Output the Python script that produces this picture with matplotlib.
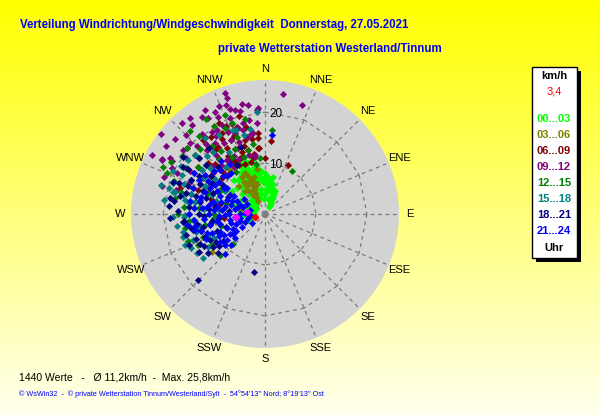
import matplotlib
matplotlib.use("Agg")
import matplotlib.pyplot as plt
from matplotlib.patches import Rectangle
import numpy as np

# wind readings (direction deg from N, speed km/h), one list per 3-hour block
h00 = [(30, 1.5), (28, 2.5), (27, 3.2), (26, 3.8), (32, 2.0), (25, 4.3), (355, 6.5), (358, 7.0), (2, 6.8),
       (5, 6.0), (8, 5.5), (352, 7.5), (348, 8.0), (345, 8.8), (340, 9.5), (335, 10.0), (338, 8.5),
       (342, 7.2), (330, 9.0), (325, 8.0), (330, 6.5), (335, 5.5), (340, 4.5), (345, 3.5), (320, 5.0),
       (315, 4.0), (310, 3.5), (300, 3.0), (290, 3.5), (280, 3.2), (270, 3.5), (260, 3.0), (255, 2.5),
       (250, 3.5), (265, 4.5), (275, 5.0), (320, 7.0), (328, 4.0), (350, 5.0), (0, 4.0), (10, 3.0),
       (15, 4.5), (350, 9.5), (318, 10.5), (305, 8.0), (310, 6.0), (298, 5.5), (285, 6.0),
       (29, 2.0), (27, 2.8), (24, 3.6), (23, 4.8), (358, 6.0), (3, 7.5), (6, 7.0), (9, 6.5), (12, 5.5),
       (350, 6.8), (346, 7.2), (343, 8.3), (337, 9.0), (332, 9.5), (327, 8.8), (322, 8.5), (318, 9.0),
       (325, 7.0), (333, 7.8), (340, 8.0), (347, 9.5), (353, 8.5), (0, 8.0), (345, 5.8), (335, 4.0),
       (325, 3.0), (315, 2.5), (300, 2.0), (285, 2.5), (268, 2.2), (260, 2.2), (330, 11.5),
       (336, 11.0), (342, 10.5), (312, 7.5), (355, 3.0), (5, 4.5), (15, 6.0), (20, 5.0), (18, 3.5),
       (2, 5.0), (350, 4.0), (12, 7.5), (355, 8.5), (340, 10.8), (348, 11.0)]

h03 = [(332, 3.0), (333, 3.8), (334, 4.5), (335, 5.2), (336, 6.0), (337, 6.8), (338, 7.5), (336, 8.2),
       (334, 9.0), (328, 8.5), (326, 7.5), (328, 6.5), (325, 5.5), (340, 5.5), (342, 6.5), (344, 7.5),
       (320, 6.0), (318, 7.5), (350, 9.0), (234, 12.8), (300, 12.0), (330, 12.0), (305, 4.8),
       (328, 4.4), (331, 4.2), (333, 5.0), (335, 6.5), (329, 7.0), (345, 6.0), (300, 8.0), (280, 5.0),
       (322, 11.0)]

h06 = [(5, 14.4), (25, 10.6), (350, 12), (355, 16), (345, 15), (340, 13), (335, 14), (330, 15),
       (338, 16.5), (342, 18), (336, 19), (330, 17), (325, 16), (320, 14), (328, 12.5), (332, 11),
       (338, 10.5), (345, 10.5), (315, 12), (310, 11), (318, 10.5), (325, 18.5),
       (333, 20), (345, 20), (355, 13), (0, 11), (320, 19), (312, 15), (305, 13), (300, 10), (290, 12),
       (348, 17.5), (335, 12), (327, 13.5), (343, 14), (310, 17), (295, 16),
       (282, 9), (265, 8), (287, 17.4), (354, 13), (355, 15), (330, 12), (335, 16), (340, 17),
       (345, 13), (350, 15), (325, 13), (320, 12), (315, 14), (310, 13), (305, 16),
       (300, 14), (295, 12), (338, 12), (348, 11.5), (322, 16), (332, 18),
       (318, 17), (300, 18), (290, 14), (285, 11), (278, 10)]

h09 = [(341.7, 25.0), (341.9, 23.9), (340.3, 22.7), (341.6, 21.7), (343.9, 21.2), (346.4, 20.8),
       (351, 21.6), (355.6, 20.5), (350.3, 18.7), (346.4, 18.4), (333.9, 22.3), (334, 21.1),
       (329.3, 21.9), (327, 22.7), (317.6, 24.1), (320.6, 22.6), (307.7, 25.8), (304.5, 23.5),
       (300.5, 21.6), (334, 19.4), (327, 19.1), (322, 19.1), (313.4, 20.3), (339.9, 18.8),
       (342.6, 17.7), (335.7, 17.6), (339.7, 16.9), (351.6, 16.1), (346.8, 15.5), (350.4, 11.7),
       (297.6, 25.0), (308, 20.4), (8.5, 23.8), (18.7, 22.6), (356, 20.8), (350, 11.3), (320, 15),
       (325, 13), (330, 16), (318, 17), (312, 14), (335, 12), (340, 15), (328, 18), (315, 11),
       (305, 15), (322, 20), (310, 18), (300, 17), (295, 14), (290, 18), (285, 15), (298, 12),
       (285, 21), (296.3, 20.3), (297.7, 22.8), (325, 17), (330, 19), (335, 16), (338, 14),
       (332, 13), (320, 18), (315, 19), (310, 20), (305, 19), (300, 21), (295, 19), (290, 21),
       (285, 18), (292, 16), (302, 14), (308, 13), (318, 13), (345, 17), (350, 16), (355, 18),
       (348, 22), (337, 23), (330, 23.5), (322, 24), (315, 22), (298, 23), (310, 23), (345, 12),
       (327, 11), (340, 20)]

h12 = [(5, 16.5), (32, 10), (310, 20), (310, 18), (335, 18.7), (299, 21.2), (293, 20.8), (227, 8.6),
       (228, 11.9), (251, 16), (245, 14.5), (320, 14), (325, 10), (340, 12),
       (330, 13), (312, 11), (300, 13), (305, 16), (290, 12), (280, 14), (270, 10), (285, 8),
       (275, 16), (260, 12), (340, 16), (350, 14), (330, 20), (322, 17), (318, 22), (338, 21),
       (348, 19), (265, 15), (255, 9), (295, 10), (300, 18), (305, 20),
       (310, 15), (315, 18), (325, 15), (330, 11), (335, 14), (345, 13), (350, 10), (285, 17),
       (280, 18), (270, 17), (260, 16), (250, 13), (240, 12), (290, 19), (295, 22), (320, 20),
       (328, 22), (340, 19), (355, 11), (300, 10), (275, 13), (265, 10)]

h15 = [(285.6, 21.2), (283.4, 18.5), (288.6, 19), (283.7, 18.2), (283, 16.5), (269.3, 15.7),
       (254.3, 16.7), (248.8, 16.8), (234.6, 14.9), (257.6, 16.5), (265, 14.2), (258, 13.6),
       (355.5, 20.1), (350, 16.9), (339, 17.6), (321.7, 19), (341, 17.4), (275, 12), (280, 14),
       (290, 15), (295, 13), (300, 16), (305, 12), (310, 14), (270, 11), (262, 10), (250, 12),
       (245, 11), (275, 9), (285, 10), (290, 11), (300, 9), (315, 16), (320, 12), (330, 14),
       (295, 18), (278, 20), (268, 18), (240, 13), (262, 17.5), (280, 16), (285, 15), (290, 17),
       (295, 16), (300, 14), (305, 15), (275, 14), (270, 13), (265, 12), (260, 13), (255, 14),
       (250, 15), (245, 16), (240, 15.5), (285, 19.5), (295, 20), (300, 19), (310, 18), (320, 16),
       (330, 18), (345, 16), (305, 18.5), (290, 13), (278, 15), (268, 16)]

h18 = [(190.7, 11.6), (225.4, 18.4), (267.6, 18.6), (279.6, 18.9), (264.4, 16.2), (237, 9.8),
       (235.6, 13.5), (237.6, 12.1), (249, 12.6), (257.5, 14.5), (304.8, 19.6), (299.8, 18.5),
       (289, 19.1), (275, 15), (270, 13), (260, 11), (250, 10), (245, 14), (255, 16), (285, 12),
       (290, 16), (295, 14), (300, 12), (310, 15), (280, 10), (265, 9), (240, 11), (230, 12),
       (272, 17), (282, 17), (292, 11), (305, 10), (315, 13), (320, 17), (330, 11), (262, 13.5),
       (252, 8), (275, 7), (295, 8), (340, 14), (280, 13), (285, 14), (275, 11), (270, 15),
       (265, 16), (260, 15), (255, 13), (250, 14.5), (245, 12), (240, 15), (235, 11), (290, 13),
       (295, 16), (300, 15), (305, 13), (310, 17), (285, 16), (278, 18), (268, 12), (258, 12.5),
       (248, 16), (242, 13.5), (300, 17.5), (290, 18), (275, 19), (262, 10.5)]

h21 = [(5, 15.5), (225, 11.1), (231.3, 7.5), (240.5, 5.2), (235, 3.1), (248, 4.2), (282, 13),
       (300, 11.3), (298.5, 7.8), (290, 5.2), (268.6, 7.8), (259, 11), (257, 14), (314.4, 12.3),
       (303, 14), (266, 2.9), (275, 10), (285, 9), (295, 12),
       (320, 10.5), (305, 5), (280, 6), (270, 5), (260, 7), (250, 8), (245, 10), (240, 8),
       (235, 9), (255, 5), (265, 12), (275, 14), (290, 15), (300, 16), (310, 13), (325, 12),
       (300, 4), (285, 3), (280, 11), (262, 9.5), (292, 9.5),
       (275, 12.5), (252, 12), (285, 7), (290, 8), (295, 6), (300, 7), (305, 9), (280, 8),
       (275, 8.5), (270, 7), (265, 6), (260, 5), (255, 7), (250, 6), (245, 7), (240, 6.5),
       (250, 11), (255, 13), (260, 14), (265, 14), (270, 15), (280, 15), (285, 13), (290, 12.5),
       (300, 13), (305, 11), (315, 10.5), (288, 4.5), (272, 4),
       (258, 3.5), (243, 9), (238, 10.5), (232, 10), (228, 9), (262, 15.5), (247, 12.5),
       (296, 10.5), (283, 10.5), (270, 11), (277, 11.5), (312, 11), (320, 13.5), (297, 14.5),
       (285, 5.5), (278, 9.5), (268, 9), (292, 7), (302, 9.5), (258, 9), (248, 9.5), (238, 7.5)]

latest = [(264, 5.7), (276, 3.5)]
now = [(253, 2.1)]

groups = [h00, h03, h06, h09, h12, h15, h18, h21]
hour_labels = ["00...03", "03...06", "06...09", "09...12", "12...15", "15...18", "18...21", "21...24"]
hour_colors = ["#00ff00", "#808000", "#800000", "#800080", "#008000", "#008080", "#000080", "#0000ff"]
compass = ["N", "NNE", "NE", "ENE", "E", "ESE", "SE", "SSE",
           "S", "SSW", "SW", "WSW", "W", "WNW", "NW", "NNW"]

RMAX = 26.3
W, H = 600, 415

fig = plt.figure(figsize=(6, 4.15), dpi=100)

# yellow gradient background
bg = fig.add_axes([0, 0, 1, 1], zorder=-5)
grad = np.linspace(0, 1, 256).reshape(-1, 1)
top = np.array([1.0, 1.0, 0.0])
bot = np.array([1.0, 1.0, 0.93])
img = top + (bot - top) * grad[..., None]
bg.imshow(img, aspect="auto", extent=[0, 1, 0, 1])
bg.axis("off")

ax = fig.add_axes([131 / W, (H - 348) / H, 268 / W, 268 / H], projection="polar")
ax.set_theta_zero_location("N")
ax.set_theta_direction(-1)
ax.set_facecolor("#d3d3d3")
ax.grid(False)
ax.set_xticks([])
ax.set_yticks([])
ax.spines["polar"].set_visible(False)

angles = np.radians(np.arange(0, 360, 22.5))
for a in angles:
    ax.plot([a, a], [0, RMAX], ls=(0, (3, 3)), color="#7a7a7a", lw=0.9, zorder=1)
for r in (10, 20):
    for a0, a1 in zip(angles, np.roll(angles, -1)):
        ax.plot([a0, a1], [r, r], ls=(0, (3, 3)), color="#7a7a7a", lw=0.9, zorder=1)
    ax.annotate(str(r), xy=(0, r), xytext=(3, -1.5), textcoords="offset points",
                ha="left", va="center", fontsize=8.5, family="Liberation Sans")

for pts, col in zip(groups, hour_colors):
    d, s = np.array(pts).T
    ax.plot(np.radians(d), s, "D", ls="none", ms=3.2, color=col, mew=0.4, zorder=3)
for pts, col in ((latest, "#ff00ff"), (now, "#ff0000")):
    d, s = np.array(pts).T
    ax.plot(np.radians(d), s, "D", ls="none", ms=3.2, color=col, zorder=4)
ax.plot([0], [0], "s", ms=3.5, color="#808080", zorder=4)
ax.set_ylim(0, RMAX)

for a, lab in zip(angles, compass):
    ax.text(a, 28.5, lab, ha="center", va="center", fontsize=8, family="Liberation Sans")

def fx(x):
    return x / W

def fy(y):
    return 1 - y / H

title_kw = dict(color="#0000ff", fontsize=8.3, fontweight="bold", family="Liberation Sans")
fig.text(fx(20), fy(25), "Verteilung Windrichtung/Windgeschwindigkeit  Donnerstag, 27.05.2021",
         ha="left", va="center", **title_kw)
fig.text(fx(218), fy(49), "private Wetterstation Westerland/Tinnum", ha="left", va="center", **title_kw)

fig.text(fx(19), fy(377), "1440 Werte   -   Ø 11,2km/h  -  Max. 25,8km/h",
         ha="left", va="center", fontsize=7.5, family="Liberation Sans")
fig.text(fx(19), fy(394),
         "© WsWin32  -  © private Wetterstation Tinnum/Westerland/Sylt  -  54°54'13'' Nord; 8°19'13'' Ost",
         ha="left", va="center", fontsize=5.2, color="#0000ff", family="Liberation Sans")

# legend box with shadow
fig.patches.append(Rectangle((fx(536), fy(262)), (577 - 532) / W, (258 - 67) / H,
                             transform=fig.transFigure, facecolor="black", edgecolor="none"))
fig.patches.append(Rectangle((fx(532), fy(258)), (577 - 532) / W, (258 - 67) / H,
                             transform=fig.transFigure, facecolor="white", edgecolor="black", lw=1))
cx = fx(554)
fig.text(cx, fy(76), "km/h", ha="center", va="center", fontsize=8, fontweight="bold",
         family="Liberation Sans")
fig.text(cx, fy(92), "3,4", ha="center", va="center", fontsize=8, color="#ff0000",
         family="Liberation Sans")
for i, (lab, col) in enumerate(zip(hour_labels, hour_colors)):
    fig.text(cx, fy(119 + i * 16), lab, ha="center", va="center", fontsize=8,
             fontweight="bold", color=col, family="Liberation Sans")
fig.text(cx, fy(248), "Uhr", ha="center", va="center", fontsize=8, fontweight="bold",
         family="Liberation Sans")

fig.savefig("out.png", dpi=100)
